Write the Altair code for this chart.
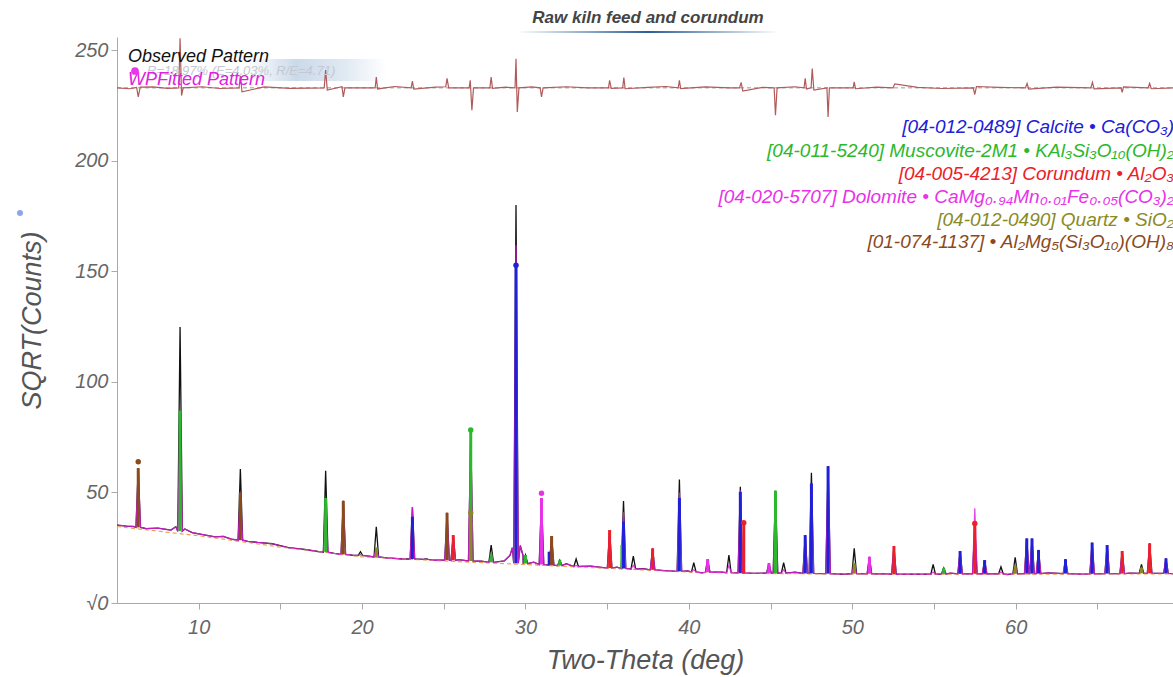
import altair as alt
import pandas as pd

FONT = "Liberation Sans"

# ---------------- data (sqrt(counts) units) ----------------
# observed background between peaks
bg_x = [5.0, 5.6, 6.0, 6.8, 7.5, 8.3, 8.6, 9.15, 9.6, 10.5, 11.0, 11.5, 12.0, 13.0, 13.6, 14.5,
        15.5, 16.5, 17.3, 18.3, 19.4, 20.4, 21.5, 22.5, 24.3, 25.9, 27.3, 28.7, 29.05, 29.2,
        29.68, 29.85, 30.5, 32.5, 34.0, 35.6, 37.2, 38.5, 39.9, 40.8, 42.0, 44.0, 46.5, 49.5,
        51.5, 54.0, 56.0, 59.5, 62.0, 64.0, 67.0, 69.63]
bg_y = [35.2, 34.8, 34.6, 33.6, 33.9, 33.0, 34.5, 33.5, 31.8, 30.6, 29.9, 30.1, 28.9, 27.9, 27.4, 26.8,
        25.0, 24.2, 23.3, 22.4, 21.6, 21.2, 20.4, 19.9, 19.4, 19.6, 18.9, 19.0, 21.5, 25.0,
        26.0, 21.5, 18.5, 17.8, 16.7, 16.2, 15.5, 14.6, 14.5, 13.6, 14.0, 13.4, 13.9, 13.0,
        13.3, 13.0, 13.5, 12.9, 13.6, 13.1, 13.5, 13.3]

# fitted background (orange dashed)
bgfit_x = [5, 10, 15, 20, 25, 30, 35, 40, 45, 50, 55, 60, 65, 69.63]
bgfit_y = [34.6, 30.4, 25.3, 20.9, 19.0, 17.4, 15.7, 14.0, 13.3, 13.1, 13.0, 13.0, 13.1, 13.2]

# observed / fitted peaks
peak_x = [6.3, 8.86, 12.55, 17.77, 18.85, 19.9, 20.87, 23.08, 23.9, 25.2, 25.58, 26.65, 27.9,
          29.42, 30.0, 30.98, 31.6, 32.1, 33.1, 35.15, 36.0, 36.6, 37.78, 39.42, 40.3, 41.15,
          42.45, 43.15, 44.9, 45.3, 45.8, 47.12, 47.5, 48.52, 50.12, 51.05, 52.55, 54.95, 55.6,
          56.6, 57.5, 58.1, 59.1, 59.97, 60.68, 61.0, 61.4, 63.05, 64.68, 65.6, 66.52, 67.7,
          68.2, 69.2]
peak_obs = [61.0, 124.8, 60.6, 59.8, 46.2, 23.2, 34.5, 43.4, 20.0, 40.8, 30.7, 76.0, 26.2,
            180.0, 21.7, 47.5, 30.3, 19.4, 19.9, 33.0, 46.1, 21.2, 24.7, 55.9, 18.2, 19.9,
            21.7, 52.6, 18.0, 50.8, 18.2, 30.7, 58.9, 61.9, 24.7, 20.9, 25.8, 17.5, 15.8,
            23.5, 34.8, 19.4, 16.4, 20.7, 29.2, 29.2, 24.0, 19.8, 27.3, 26.2, 23.5, 17.5,
            27.0, 20.2]
peak_fit = [61.0, 87.0, 50.0, 47.5, 46.2, 22.0, 25.0, 43.4, 20.0, 40.8, 30.7, 78.0, 22.0,
            161.8, 21.0, 47.5, 30.0, 19.0, 17.0, 33.0, 41.0, 17.0, 24.7, 50.0, 15.0, 19.9,
            17.0, 51.0, 18.0, 50.8, 15.0, 30.0, 54.0, 61.9, 18.0, 20.9, 25.8, 14.0, 15.8,
            23.5, 42.8, 19.4, 14.0, 17.0, 29.0, 29.0, 24.0, 19.8, 27.0, 26.0, 23.5, 16.0,
            27.0, 20.0]
peak_base = [34.2, 32.5, 28.4, 23.0, 22.0, 21.5, 20.8, 19.9, 19.7, 19.4, 19.3, 19.0, 18.4,
             18.0, 17.8, 17.4, 17.1, 16.9, 16.5, 15.8, 15.6, 15.4, 15.0, 14.3, 14.1, 13.9,
             13.7, 13.6, 13.5, 13.5, 13.5, 13.4, 13.4, 13.3, 13.3, 13.2, 13.1, 13.0, 13.1,
             13.2, 13.2, 13.2, 13.2, 13.2, 13.3, 13.3, 13.3, 13.3, 13.2, 13.3, 13.3, 13.4,
             13.4, 13.4]

# phase sticks
stick_x = [6.3, 8.86, 12.55, 17.77, 18.85, 19.9, 20.87, 23.08, 23.9, 25.2, 25.58, 26.65, 26.65,
           27.9, 29.42, 30.0, 30.98, 31.45, 31.6, 32.1, 35.15, 35.9, 36.0, 37.78, 39.42, 41.15,
           43.15, 43.36, 44.9, 45.3, 47.12, 47.5, 48.52, 50.12, 51.05, 52.55, 55.6, 56.6, 57.5,
           58.1, 59.97, 60.68, 61.0, 61.4, 63.05, 64.68, 65.6, 66.52, 67.7, 68.2, 69.2]
stick_top = [61.0, 87.0, 50.0, 47.5, 46.2, 22.0, 25.0, 39.0, 20.0, 40.8, 30.7, 78.0, 40.8,
             22.0, 153.0, 21.7, 47.5, 23.2, 30.3, 19.4, 33.0, 26.2, 36.8, 24.7, 47.5, 19.9,
             50.3, 36.3, 18.0, 50.8, 30.7, 54.1, 61.9, 18.0, 20.9, 25.8, 15.8, 23.5, 36.0,
             19.4, 17.0, 29.2, 29.2, 24.0, 19.8, 27.3, 26.2, 23.5, 16.0, 27.0, 20.2]
stick_base = [34.2, 32.5, 28.4, 23.0, 22.0, 21.5, 20.8, 19.9, 19.7, 19.4, 19.3, 19.0, 19.0,
              18.4, 18.0, 17.8, 17.4, 17.2, 17.1, 16.9, 15.8, 15.6, 15.6, 15.0, 14.3, 13.9,
              13.6, 13.6, 13.5, 13.5, 13.4, 13.4, 13.3, 13.3, 13.2, 13.1, 13.1, 13.2, 13.2,
              13.2, 13.2, 13.3, 13.3, 13.3, 13.3, 13.2, 13.3, 13.3, 13.4, 13.4, 13.4]
stick_phase = ["L", "M", "L", "M", "L", "M", "Q", "C", "M", "L", "K", "M", "Q",
               "M", "C", "M", "D", "C", "L", "M", "K", "M", "C", "K", "C", "D",
               "C", "K", "D", "M", "C", "C", "C", "Q", "D", "K", "M", "C", "K",
               "C", "Q", "C", "C", "C", "C", "C", "C", "K", "Q", "K", "C"]

# marker dots on labelled peaks
dot_x = [6.3, 26.65, 26.65, 29.42, 30.98, 43.36, 57.5]
dot_y = [63.9, 78.2, 40.8, 152.8, 49.6, 36.3, 36.0]
dot_phase = ["L", "M", "Q", "C", "D", "K", "K"]

# difference (residual) curve, offset at 233
res_base = 233.0
res_x = [5.0, 5.8, 6.2, 6.3, 6.42, 7.2, 8.1, 8.78, 8.86, 8.95, 9.05, 10.2, 11.3, 12.47, 12.55,
         12.65, 14.0, 15.6, 17.68, 17.77, 17.87, 18.77, 18.85, 18.95, 20.8, 20.87, 20.95,
         22.0, 23.0, 23.08, 23.16, 24.5, 25.12, 25.2, 25.3, 26.55, 26.62, 26.72, 26.82, 27.82,
         27.9, 27.98, 28.8, 29.36, 29.42, 29.5, 29.6, 30.4, 30.9, 30.98, 31.08, 32.5, 33.8,
         35.08, 35.15, 35.25, 35.95, 36.02, 36.1, 37.5, 38.6, 39.35, 39.42, 39.5, 41.0, 42.5,
         43.1, 43.2, 43.3, 44.5, 45.22, 45.3, 45.4, 46.5, 47.05, 47.12, 47.2, 47.48, 47.55,
         47.65, 48.45, 48.52, 48.6, 50.05, 50.12, 50.2, 51.5, 52.5, 52.6, 54.0, 55.5, 57.4,
         57.5, 57.6, 59.0, 60.6, 60.7, 60.8, 62.5, 64.6, 64.7, 64.8, 66.45, 66.52, 66.6,
         68.1, 68.2, 68.3, 69.63]
res_y = [233.0, 232.6, 233.2, 228.9, 233.3, 233.4, 232.8, 233.0, 255.4, 229.5, 233.0, 233.5,
         232.7, 233.0, 238.5, 231.2, 233.4, 232.8, 233.0, 241.0, 232.0, 233.5, 228.9, 233.0,
         233.0, 237.9, 232.5, 233.6, 233.0, 236.0, 232.4, 233.3, 233.5, 237.3, 233.0, 233.0,
         236.4, 222.9, 233.0, 233.0, 237.9, 232.8, 233.3, 233.0, 246.2, 222.1, 233.0, 233.4,
         233.0, 228.9, 233.0, 233.5, 233.0, 233.0, 236.4, 232.8, 233.0, 237.7, 232.6, 233.2,
         233.6, 233.0, 236.4, 232.7, 233.4, 233.0, 233.0, 235.5, 231.5, 233.2, 233.0, 220.6,
         233.0, 233.5, 233.0, 237.3, 232.5, 233.0, 241.7, 232.0, 233.0, 219.8, 233.0, 233.0,
         235.7, 232.6, 233.3, 233.0, 234.8, 233.2, 232.7, 233.0, 230.0, 233.6, 233.2, 233.0,
         235.0, 232.4, 233.3, 233.0, 235.5, 232.5, 233.0, 231.0, 233.4, 233.0, 235.0, 232.6,
         233.0]

phase_codes = ["C", "M", "K", "D", "Q", "L"]
phase_colors = ["#2020d8", "#2cb82c", "#ec2028", "#e832e8", "#8a8a24", "#8b4a1c"]
legend_texts = [
    "[04-012-0489] Calcite \u2022 Ca(CO\u2083)",
    "[04-011-5240] Muscovite-2M1 \u2022 KAl\u2083Si\u2083O\u2081\u2080(OH)\u2082",
    "[04-005-4213] Corundum \u2022 Al\u2082O\u2083",
    "[04-020-5707] Dolomite \u2022 CaMg\u2080.\u2089\u2084Mn\u2080.\u2080\u2081Fe\u2080.\u2080\u2085(CO\u2083)\u2082",
    "[04-012-0490] Quartz \u2022 SiO\u2082",
    "[01-074-1137]  \u2022 Al\u2082Mg\u2085(Si\u2083O\u2081\u2080)(OH)\u2088",
]

# ---------------- tables ----------------
HW = 0.14
obs_rows = [{"x": a, "y": b} for a, b in zip(bg_x, bg_y)]
fit_rows = [{"x": a, "y": b} for a, b in zip(bg_x, bg_y)]
for px, po, pf, pb in zip(peak_x, peak_obs, peak_fit, peak_base):
    obs_rows += [{"x": px - HW, "y": pb}, {"x": px, "y": po}, {"x": px + HW, "y": pb}]
    fit_rows += [{"x": px - HW, "y": pb}, {"x": px, "y": pf}, {"x": px + HW, "y": pb}]
obs = pd.DataFrame(obs_rows).sort_values("x")
fit = pd.DataFrame(fit_rows).sort_values("x")
bgfit = pd.DataFrame({"x": bgfit_x, "y": bgfit_y})
sticks = pd.DataFrame({"x": stick_x, "y": stick_base, "y2": stick_top, "p": stick_phase})
dots = pd.DataFrame({"x": dot_x, "y": dot_y, "p": dot_phase})
res = pd.DataFrame({"x": res_x, "y": res_y})
resb = pd.DataFrame({"x": [5.0, 69.63], "y": [res_base, res_base]})

W, H = 1056, 566
xs = alt.Scale(domain=[5, 69.63], nice=False, zero=False)
ys = alt.Scale(domain=[0, 256], nice=False, zero=False)
pscale = alt.Scale(domain=phase_codes, range=phase_colors)

x_axis = alt.Axis(values=[10, 15, 20, 25, 30, 35, 40, 45, 50, 55, 60, 65],
                  labelExpr="datum.value % 10 == 0 ? datum.label : ''",
                  title="Two-Theta (deg)", grid=False, tickSize=6, tickColor="#aaaaaa",
                  domainColor="#aaaaaa", labelFont=FONT, labelFontSize=20,
                  labelFontStyle="italic", labelColor="#666666", labelPadding=8,
                  titleFont=FONT, titleFontSize=27, titleFontStyle="italic",
                  titleFontWeight="normal", titleColor="#555555", titlePadding=10)
y_axis = alt.Axis(values=[0, 50, 100, 150, 200, 250],
                  labelExpr="datum.value == 0 ? '\u221a0' : datum.label",
                  title="SQRT(Counts)", grid=False, tickSize=6, tickColor="#aaaaaa",
                  domainColor="#aaaaaa", labelFont=FONT, labelFontSize=20,
                  labelFontStyle="italic", labelColor="#666666", labelPadding=3,
                  titleFont=FONT, titleFontSize=27, titleFontStyle="italic",
                  titleFontWeight="normal", titleColor="#555555", titlePadding=28)


def X(field="x:Q"):
    return alt.X(field, scale=xs, axis=x_axis, title="Two-Theta (deg)")


def Y(field="y:Q"):
    return alt.Y(field, scale=ys, axis=y_axis, title="SQRT(Counts)")


base_obs = alt.Chart(obs).mark_line(color="#111111", strokeWidth=1.3, clip=True).encode(x=X(), y=Y())
fit_line = alt.Chart(fit).mark_line(color="#e020e0", strokeWidth=1.2, opacity=0.85, clip=True).encode(x=X(), y=Y())
bg_line = alt.Chart(bgfit).mark_line(color="#f0a050", strokeWidth=1.2, strokeDash=[4, 3], clip=True).encode(x=X(), y=Y())
stick_rules = alt.Chart(sticks).mark_rule(strokeWidth=3, clip=True).encode(
    x=X(), y=Y(), y2="y2:Q", color=alt.Color("p:N", scale=pscale, legend=None))
dot_pts = alt.Chart(dots).mark_circle(size=30, opacity=1).encode(
    x=X(), y=Y(), color=alt.Color("p:N", scale=pscale, legend=None))
res_line = alt.Chart(res).mark_line(color="#b25a5a", strokeWidth=1.2, clip=True).encode(x=X(), y=Y())
res_base_line = alt.Chart(resb).mark_line(color="#999999", strokeWidth=1, strokeDash=[4, 3]).encode(x=X(), y=Y())

one = pd.DataFrame({"a": [0]})
deco = []
# glow behind the fit statistics
deco.append(alt.Chart(one).mark_rect(
    fill=alt.Gradient(gradient="linear", x1=0, x2=1, y1=0, y2=0,
                      stops=[alt.GradientStop(color="#ffffff", offset=0),
                             alt.GradientStop(color="#b9cde2", offset=0.35),
                             alt.GradientStop(color="#d6e2ee", offset=0.7),
                             alt.GradientStop(color="#ffffff", offset=1)]),
    opacity=0.75).encode(x=alt.value(130), x2=alt.value(270), y=alt.value(22), y2=alt.value(44)))
# title underline
deco.append(alt.Chart(one).mark_rect(
    fill=alt.Gradient(gradient="linear", x1=0, x2=1, y1=0, y2=0,
                      stops=[alt.GradientStop(color="#ffffff", offset=0),
                             alt.GradientStop(color="#2a5f96", offset=0.5),
                             alt.GradientStop(color="#ffffff", offset=1)])).encode(
    x=alt.value(400), x2=alt.value(662), y=alt.value(-6), y2=alt.value(-4)))

texts = []
texts.append(alt.Chart(one).mark_text(text="Raw kiln feed and corundum", font=FONT, fontSize=17,
                                      fontStyle="italic", fontWeight="bold", color="#444444",
                                      align="center", baseline="alphabetic").encode(
    x=alt.value(531), y=alt.value(-14)))
texts.append(alt.Chart(one).mark_text(text="R=18.97% (E=4.03%, R/E=4.71)", font=FONT, fontSize=13,
                                      fontStyle="italic", color="#c4c8d2", align="left",
                                      baseline="alphabetic").encode(x=alt.value(30), y=alt.value(38)))
texts.append(alt.Chart(one).mark_text(text="Observed Pattern", font=FONT, fontSize=18,
                                      fontStyle="italic", color="#111111", align="left",
                                      baseline="alphabetic").encode(x=alt.value(11), y=alt.value(25)))
texts.append(alt.Chart(one).mark_text(text="WPFitted Pattern", font=FONT, fontSize=18,
                                      fontStyle="italic", color="#e020e0", align="left",
                                      baseline="alphabetic").encode(x=alt.value(11), y=alt.value(48)))
texts.append(alt.Chart(one).mark_circle(size=60, color="#e838e8", opacity=1).encode(
    x=alt.value(18), y=alt.value(34)))
texts.append(alt.Chart(one).mark_circle(size=36, color="#6f8fe8", opacity=0.8).encode(
    x=alt.value(-97), y=alt.value(176)))
leg_y = [90, 114, 137, 160, 183, 205]
for t, c, yy in zip(legend_texts, phase_colors, leg_y):
    texts.append(alt.Chart(one).mark_text(text=t, font=FONT, fontSize=19, fontStyle="italic",
                                          color=c, align="right", baseline="middle").encode(
        x=alt.value(1057), y=alt.value(yy)))

chart = alt.layer(base_obs, *deco, res_base_line, res_line, bg_line, fit_line, stick_rules,
                  dot_pts, *texts).properties(
    width=W, height=H,
    padding={"left": 117, "top": 37, "right": 0, "bottom": 74},
    autosize=alt.AutoSizeParams(type="none"),
).configure_view(stroke=None)

chart.save("out.html", embed_options={"renderer": "svg", "actions": False})
